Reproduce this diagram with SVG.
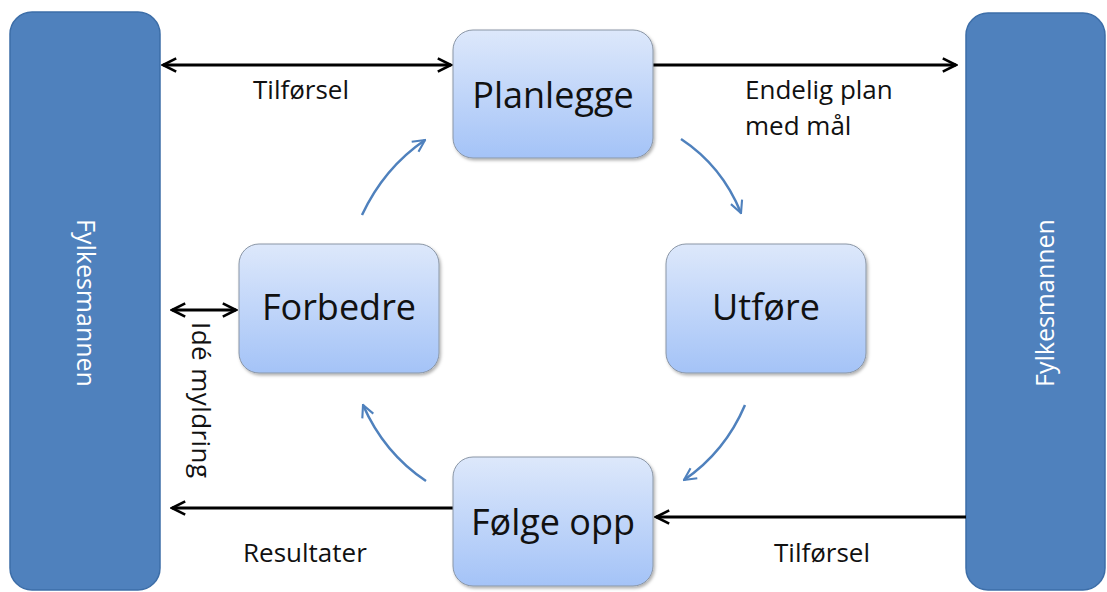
<svg xmlns="http://www.w3.org/2000/svg" width="1107" height="592" viewBox="0 0 1107 592">
<defs>
<linearGradient id="g" x1="0" y1="0" x2="0" y2="1">
<stop offset="0" stop-color="#dde8fb"/>
<stop offset="1" stop-color="#a4c3f7"/>
</linearGradient>
<filter id="sh" x="-10%" y="-10%" width="130%" height="130%">
<feDropShadow dx="1.5" dy="2" stdDeviation="1.5" flood-color="#000" flood-opacity="0.3"/>
</filter>
<marker id="ah" viewBox="0 0 10 10" refX="9" refY="5" markerWidth="5.5" markerHeight="5.5" orient="auto-start-reverse" markerUnits="strokeWidth">
<path d="M1,1 L9,5 L1,9" fill="none" stroke="#000" stroke-width="1.6"/>
</marker>
<marker id="bh" viewBox="0 0 10 10" refX="9" refY="5" markerWidth="6" markerHeight="6" orient="auto" markerUnits="strokeWidth">
<path d="M1,1 L9,5 L1,9" fill="none" stroke="#4f81bd" stroke-width="1.4"/>
</marker>
</defs>
<style>
.bar{fill:#4f81bd;stroke:#3d6ea8;stroke-width:1.5}
.node{fill:url(#g);stroke:#8a96a6;stroke-width:1;filter:url(#sh)}
.nt{font-family:"Open Sans","Liberation Sans",sans-serif;font-size:36px;fill:#111;text-anchor:middle}
.lbl{font-family:"Open Sans","Liberation Sans",sans-serif;font-size:26px;fill:#111}
.bt{font-family:"Open Sans","Liberation Sans",sans-serif;font-size:25px;fill:#fff;text-anchor:middle}
.conn{stroke:#000;stroke-width:3;fill:none}
.cyc{stroke:#4f81bd;stroke-width:2.5;fill:none}
</style>
<g id="left-bar">
<rect class="bar" x="10" y="12" width="150" height="578" rx="22"/>
<text class="bt" transform="translate(77,303) rotate(90)">Fylkesmannen</text>
</g>
<g id="right-bar">
<rect class="bar" x="966" y="13" width="139" height="577" rx="22"/>
<text class="bt" transform="translate(1054,303) rotate(-90)">Fylkesmannen</text>
</g>
<g id="connectors">
<line class="conn" x1="163" y1="65" x2="451" y2="65" marker-start="url(#ah)" marker-end="url(#ah)"/>
<line class="conn" x1="653" y1="65" x2="956" y2="65" marker-end="url(#ah)"/>
<line class="conn" x1="172" y1="310" x2="236" y2="310" marker-start="url(#ah)" marker-end="url(#ah)"/>
<line class="conn" x1="453" y1="508" x2="172" y2="508" marker-end="url(#ah)"/>
<line class="conn" x1="966" y1="517" x2="656" y2="517" marker-end="url(#ah)"/>
<path class="cyc" d="M362,215 Q384,168 425,140" marker-end="url(#bh)"/>
<path class="cyc" d="M681,139 Q722,166 741,213" marker-end="url(#bh)"/>
<path class="cyc" d="M745,405 Q725,452 684,480" marker-end="url(#bh)"/>
<path class="cyc" d="M426,481 Q384,453 363,405" marker-end="url(#bh)"/>
<text class="lbl" x="253" y="99">Tilførsel</text>
<text class="lbl" x="745" y="99">Endelig plan</text>
<text class="lbl" x="745" y="135">med mål</text>
<text class="lbl" transform="translate(192,322) rotate(90)" textLength="156">Idé myldring</text>
<text class="lbl" x="243" y="562">Resultater</text>
<text class="lbl" x="774" y="562">Tilførsel</text>
</g>
<g id="planlegge">
<rect class="node" x="453" y="30" width="200" height="128" rx="20"/>
<text class="nt" x="553" y="108">Planlegge</text>
</g>
<g id="forbedre">
<rect class="node" x="239" y="244" width="200" height="129" rx="20"/>
<text class="nt" x="339" y="320">Forbedre</text>
</g>
<g id="utfore">
<rect class="node" x="666" y="244" width="200" height="129" rx="20"/>
<text class="nt" x="766" y="320">Utføre</text>
</g>
<g id="folge-opp">
<rect class="node" x="453" y="457" width="200" height="129" rx="20"/>
<text class="nt" x="553" y="535">Følge opp</text>
</g>
</svg>
